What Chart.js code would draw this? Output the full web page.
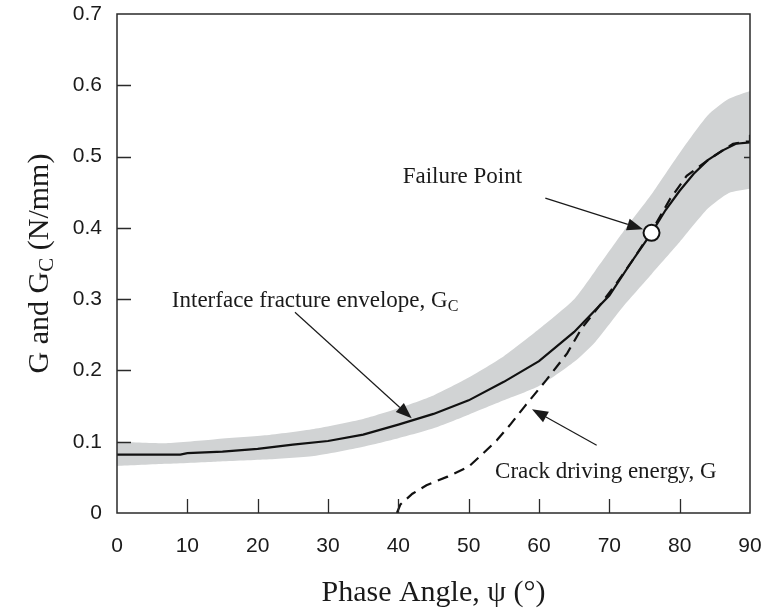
<!DOCTYPE html>
<html>
<head>
<meta charset="utf-8">
<script src="https://cdn.jsdelivr.net/npm/chart.js@4/dist/chart.umd.min.js"></script>
<style>
  html, body { margin: 0; padding: 0; background: #fff; }
  #wrap { width: 765px; height: 613px; }
</style>
</head>
<body>
<div id="wrap"><canvas id="c" width="765" height="613"></canvas></div>
<script>
// Interface fracture envelope G_C (solid line) vs phase angle (deg)
const envelopeAngle = [0, 9, 10, 15, 20, 25, 30, 35, 40, 45, 50, 55, 60, 65, 70, 73, 76, 78, 80, 82, 84, 86, 88, 90];
const envelopeGc    = [0.082, 0.082, 0.084, 0.086, 0.090, 0.096, 0.101, 0.110, 0.124, 0.139, 0.158, 0.184, 0.213, 0.254, 0.305, 0.350, 0.393, 0.425, 0.452, 0.476, 0.495, 0.508, 0.518, 0.520];

// Scatter band around the envelope
const bandAngle = [0, 7, 14, 21, 28, 35, 40, 45, 50, 55, 60, 65, 68, 72, 76, 80, 84, 87, 90];
const bandUpper = [0.100, 0.098, 0.1035, 0.109, 0.118, 0.132, 0.147, 0.165, 0.190, 0.220, 0.258, 0.300, 0.340, 0.395, 0.447, 0.505, 0.558, 0.581, 0.592];
const bandLower = [0.066, 0.069, 0.072, 0.075, 0.080, 0.093, 0.105, 0.119, 0.138, 0.158, 0.178, 0.212, 0.240, 0.290, 0.335, 0.380, 0.427, 0.449, 0.455];

// Crack driving energy G (dashed line)
const drivingAngle = [39.8, 40.3, 42, 44, 47, 50, 52, 54, 56, 58, 61, 64, 66, 69, 71, 73, 76, 78.6, 81, 84.3, 87.6, 89.5, 90, 90];
const drivingG     = [0, 0.012, 0.027, 0.039, 0.051, 0.065, 0.083, 0.102, 0.125, 0.150, 0.186, 0.224, 0.258, 0.296, 0.322, 0.350, 0.395, 0.440, 0.473, 0.497, 0.518, 0.521, 0.521, 0.540];

// Failure point (where G reaches G_C)
const failureAngle = [76];
const failureG     = [0.393];

// Axis ticks
const xTickValues = [0, 10, 20, 30, 40, 50, 60, 70, 80, 90];
const yTickValues = [0, 0.1, 0.2, 0.3, 0.4, 0.5, 0.6, 0.7];

// Callout labels and their arrows, in data units
const noteTexts  = ['Failure Point', 'Interface fracture envelope, G', 'Crack driving energy, G'];
const noteSubs   = ['', 'C', ''];
const noteAngle  = [57.6, 7.8, 53.75];
const noteValue  = [0.4626, 0.2887, 0.0487];
const noteAlign  = ['right', 'left', 'left'];
const arrowFrom  = [[60.9, 0.4417], [25.3, 0.2817], [68.2, 0.0951]];
const arrowTo    = [[74.8, 0.398], [41.9, 0.1329], [59.0, 0.1456]];

const zip = (xs, ys) => xs.map((x, i) => ({ x, y: ys[i] }));

const SANS = '"Liberation Sans", Arial, sans-serif';
const SERIF = '"Liberation Serif", "Times New Roman", serif';
const INK = '#1a1a1a';

function drawSubText(ctx, main, sub, x, y, size, align) {
  ctx.font = size + 'px ' + SERIF;
  const w1 = ctx.measureText(main).width;
  ctx.font = Math.round(size * 0.7) + 'px ' + SERIF;
  const w2 = sub ? ctx.measureText(sub).width : 0;
  let start = x;
  if (align === 'right') start = x - w1 - w2;
  if (align === 'center') start = x - (w1 + w2) / 2;
  ctx.textAlign = 'left';
  ctx.font = size + 'px ' + SERIF;
  ctx.fillText(main, start, y);
  if (sub) {
    ctx.font = Math.round(size * 0.7) + 'px ' + SERIF;
    ctx.fillText(sub, start + w1, y + size * 0.18);
  }
}

const decorations = {
  id: 'decorations',
  afterDatasetsDraw(chart) {
    const { ctx, chartArea: a, scales: { x, y } } = chart;
    ctx.save();
    // frame
    ctx.strokeStyle = '#2a2a2a';
    ctx.lineWidth = 1.5;
    ctx.strokeRect(a.left, a.top, a.right - a.left, a.bottom - a.top);
    // inward tick marks
    ctx.lineWidth = 1.3;
    ctx.beginPath();
    xTickValues.forEach(v => {
      if (v === 0 || v === 90) return;
      const px = Math.round(x.getPixelForValue(v)) + 0.5;
      ctx.moveTo(px, a.bottom);
      ctx.lineTo(px, a.bottom - 14);
    });
    yTickValues.forEach(v => {
      if (v === 0 || v === 0.7) return;
      const py = Math.round(y.getPixelForValue(v)) + 0.5;
      ctx.moveTo(a.left, py);
      ctx.lineTo(a.left + 14, py);
    });
    const pr = Math.round(y.getPixelForValue(0.5)) + 0.5;
    ctx.moveTo(a.right, pr);
    ctx.lineTo(a.right - 6, pr);
    ctx.stroke();

    // arrows
    ctx.strokeStyle = INK;
    ctx.fillStyle = INK;
    ctx.lineWidth = 1.2;
    arrowFrom.forEach((f, i) => {
      const x0 = x.getPixelForValue(f[0]), y0 = y.getPixelForValue(f[1]);
      const x1 = x.getPixelForValue(arrowTo[i][0]), y1 = y.getPixelForValue(arrowTo[i][1]);
      const ang = Math.atan2(y1 - y0, x1 - x0);
      const len = 16, half = 6;
      const bx = x1 - len * Math.cos(ang), by = y1 - len * Math.sin(ang);
      ctx.beginPath();
      ctx.moveTo(x0, y0);
      ctx.lineTo(bx, by);
      ctx.stroke();
      ctx.beginPath();
      ctx.moveTo(x1, y1);
      ctx.lineTo(bx + half * Math.sin(ang), by - half * Math.cos(ang));
      ctx.lineTo(bx - half * Math.sin(ang), by + half * Math.cos(ang));
      ctx.closePath();
      ctx.fill();
    });

    // callout texts
    ctx.textBaseline = 'alphabetic';
    noteTexts.forEach((t, i) => {
      drawSubText(ctx, t, noteSubs[i], x.getPixelForValue(noteAngle[i]), y.getPixelForValue(noteValue[i]), 23, noteAlign[i]);
    });

    // axis titles
    const cx = (a.left + a.right) / 2;
    drawSubText(ctx, 'Phase Angle, \u03C8 (\u00B0)', '', cx, 601, 30, 'center');
    ctx.translate(48, (a.top + a.bottom) / 2);
    ctx.rotate(-Math.PI / 2);
    ctx.font = '30px ' + SERIF;
    const partA = 'G and G', partB = ' (N/mm)';
    const wA = ctx.measureText(partA).width, wB = ctx.measureText(partB).width;
    ctx.font = '21px ' + SERIF;
    const wS = ctx.measureText('C').width;
    const s0 = -(wA + wS + wB) / 2;
    ctx.font = '30px ' + SERIF;
    ctx.fillText(partA, s0, 0);
    ctx.font = '21px ' + SERIF;
    ctx.fillText('C', s0 + wA, 5);
    ctx.font = '30px ' + SERIF;
    ctx.fillText(partB, s0 + wA + wS, 0);
    ctx.restore();
  }
};

new Chart(document.getElementById('c'), {
  type: 'line',
  data: {
    datasets: [
      {
        label: 'Failure point',
        data: zip(failureAngle, failureG),
        showLine: false,
        pointRadius: 8,
        pointBorderWidth: 2,
        pointBackgroundColor: '#ffffff',
        pointBorderColor: '#111111',
        order: 0
      },
      {
        label: 'Interface fracture envelope',
        data: zip(envelopeAngle, envelopeGc),
        borderColor: '#111111',
        borderWidth: 2.2,
        pointRadius: 0,
        fill: false,
        tension: 0,
        order: 1
      },
      {
        label: 'Crack driving energy',
        data: zip(drivingAngle, drivingG),
        borderColor: '#111111',
        borderWidth: 2.2,
        borderDash: [11, 7],
        pointRadius: 0,
        fill: false,
        tension: 0,
        order: 2
      },
      {
        label: 'Envelope upper bound',
        data: zip(bandAngle, bandUpper),
        borderWidth: 0,
        borderColor: 'rgba(0,0,0,0)',
        backgroundColor: '#d1d3d4',
        pointRadius: 0,
        fill: '+1',
        tension: 0.2,
        order: 3
      },
      {
        label: 'Envelope lower bound',
        data: zip(bandAngle, bandLower),
        borderWidth: 0,
        borderColor: 'rgba(0,0,0,0)',
        pointRadius: 0,
        fill: false,
        tension: 0.2,
        order: 4
      }
    ]
  },
  options: {
    responsive: false,
    animation: false,
    events: [],
    layout: { padding: { top: 14, right: 15, left: 0, bottom: 0 } },
    plugins: { legend: { display: false }, tooltip: { enabled: false } },
    scales: {
      x: {
        type: 'linear',
        min: 0,
        max: 90,
        afterFit(s) { s.height = 100; s.paddingLeft = 0; s.paddingRight = 0; },
        afterBuildTicks(s) { s.ticks = xTickValues.map(v => ({ value: v })); },
        grid: { display: false, drawTicks: false },
        border: { display: false },
        ticks: { padding: 21, color: INK, font: { family: SANS, size: 21 } }
      },
      y: {
        type: 'linear',
        min: 0,
        max: 0.7,
        afterFit(s) { s.width = 117; s.paddingTop = 0; s.paddingBottom = 0; },
        afterBuildTicks(s) { s.ticks = yTickValues.map(v => ({ value: v })); },
        grid: { display: false, drawTicks: false },
        border: { display: false },
        ticks: { padding: 15, color: INK, font: { family: SANS, size: 21 },
                 callback: v => (v === 0 ? '0' : v.toFixed(1)) }
      }
    }
  },
  plugins: [decorations]
});
</script>
</body>
</html>
